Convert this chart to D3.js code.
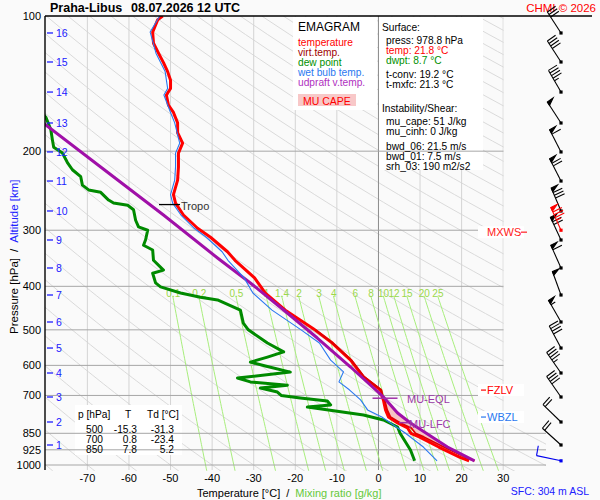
<!DOCTYPE html>
<html>
<head>
<meta charset="utf-8">
<script src="https://cdn.jsdelivr.net/npm/d3@7"></script>
<style>
  body { margin: 0; background: #fafafa; }
  text { font-family: "Liberation Sans", Arial, sans-serif; }
</style>
</head>
<body>
<svg id="chart" width="600" height="500"></svg>
<script>
/* globals d3 */

const pressTicks = [100, 200, 300, 400, 500, 600, 700, 850, 925, 1000];
const tempTicks = [-70, -60, -50, -40, -30, -20, -10, 0, 10, 20, 30];
const mixRatios = [0.1, 0.2, 0.5, 1, 1.4, 2, 3, 4, 6, 8, 10, 12, 15, 20, 25];

const altKm = [1, 2, 3, 4, 5, 6, 7, 8, 9, 10, 11, 12, 13, 14, 15, 16];
const altP = [902.5, 802.1, 705.6, 623.9, 548.9, 480.3, 418.2, 364.1, 315.4, 271.8, 233.1, 200.8, 173.1, 147.7, 126.6, 109.1];

// temperature
const tempP = [100, 102, 108.6, 115, 121, 127, 133, 139, 145, 150, 158, 164, 173, 182, 192, 202, 217, 232, 250, 261,
  277.5, 297, 311, 335, 350, 383, 414, 452, 500, 535, 584, 637, 681, 700, 717, 754, 782, 806, 827, 850, 866, 912, 960, 978.8];
const tempT = [-51.9, -53.1, -54.3, -54.1, -52.9, -51.7, -50.7, -50.0, -50.0, -51.0, -50.5, -49.3, -48.3, -48.3, -47.1, -48.1, -48.1, -48.3, -49.3, -48.8,
  -46.9, -43.5, -40.4, -36.3, -34.5, -29.8, -27.2, -22.4, -15.3, -11.1, -6.7, -3.6, 0.5, 0.8, 1.2, 1.7, 2.4, 4.6, 7.0, 7.8, 9.8, 14.5, 19.5, 21.8];

// virtual temperature (lower part, above it lies on the temperature)
const virtP = [500, 535, 584, 637, 681, 700, 717, 754, 782, 806, 827, 850, 866, 912, 960, 978.8];
const virtT = [-15.2, -11.0, -6.5, -3.4, 0.7, 1.0, 1.5, 2.1, 2.9, 5.3, 7.9, 8.9, 10.9, 15.7, 20.8, 23.1];

// dew point
const dewP = [160, 168, 179, 189, 196, 202, 212, 220, 228, 238, 244, 247, 257, 261, 264, 270, 285, 295, 300, 315, 324,
  332, 350, 368, 374, 393, 401, 414, 423, 429, 452, 483, 500, 535, 560, 575, 590, 602, 621, 640, 653,
  664, 674, 688, 700, 709, 720, 735, 743, 774, 794, 823, 850, 926, 978.8];
const dewT = [-82, -80, -78.8, -78.4, -78.1, -76.0, -74.8, -73.6, -71.6, -71.2, -69.7, -66.8, -64.9, -63.7, -60.3, -58.9, -58.4, -57.7, -55.5, -56.0, -56.5,
  -54.3, -54.1, -51.7, -54.3, -53.6, -52.4, -47.6, -42.8, -38.7, -33.2, -32.5, -31.3, -26.7, -22.8, -26.7, -30.8, -27.2, -21.2, -33.9, -30.8,
  -21.9, -28.4, -24.3, -23.4, -18.8, -12.3, -11.5, -17.1, -3.6, 1.2, 4.6, 5.2, 7.7, 8.7];

// wet bulb temperature
const wetP = [100, 108.6, 121, 133, 145, 150, 164, 173, 192, 202, 217, 232, 250, 261, 277.5, 297, 311, 335, 350, 383,
  414, 452, 500, 535, 584, 620, 653, 680, 700, 716, 754, 782, 823, 850, 912, 978.8];
const wetT = [-52.6, -54.9, -53.5, -51.3, -50.7, -51.6, -50.0, -49.0, -47.8, -48.8, -48.8, -49.0, -50.0, -49.5, -47.5, -44.3, -41.4, -37.6, -36.2, -32.3,
  -30.2, -25.6, -18.6, -14.2, -11.5, -8.4, -9.5, -7.0, -5.5, -4.3, -2.6, 0.8, 4.3, 6.5, 10.8, 14.1];

// MU parcel (updraft virtual temperature)
const parcP = [150, 174.9, 216.9, 277.5, 345.9, 393.2, 451.6, 521.4, 605, 705.6, 765.8, 806.2, 911.9, 978.8];
const parcT = [-88, -80.0, -66.8, -51.7, -38.7, -30.8, -22.8, -14.7, -6.7, 1.2, 4.6, 7.7, 16.6, 23.1];

const sfcP = 978.8;
const tropoP = 263;
const eqlP = 710;
const lfcP = 805;
const fzlvP = 681;
const wbzlP = 782;
const mxwsP = 300;

// winds (surface, then every km)
const windP = [sfcP].concat(altP);
const windDir = [282, 312, 314, 325, 325, 332, 330, 340, 336, 335, 337, 333, 333, 327, 330, 327, 327];
const windSpd = [10, 20, 20, 40, 45, 40, 55, 50, 60, 70, 80, 70, 60, 50, 45, 40, 30];
const mxwsDir = 336, mxwsSpd = 85;

const tableRows = [["500", "-15.3", "-31.3"], ["700", "0.8", "-23.4"], ["850", "7.8", "5.2"]];

// ---- drawing ----
var svg = d3.select("#chart");

var x = d3.scaleLinear().domain([-80, 30]).range([45.8, 503.2]);
var y = d3.scaleLog().domain([100, 1000]).range([16, 465]);

function interp(P, T, p) {
  for (let i = 0; i < P.length - 1; i++) {
    if (p >= P[i] && p <= P[i + 1]) {
      const f = (Math.log(p) - Math.log(P[i])) / (Math.log(P[i + 1]) - Math.log(P[i]));
      return T[i] + f * (T[i + 1] - T[i]);
    }
  }
  return p < P[0] ? T[0] : T[T.length - 1];
}

function profile(P, T) {
  return P.map((p, i) => [x(T[i]), y(p)]);
}

svg.append("rect").attr("width", 600).attr("height", 500).attr("fill", "#fafafa");

svg.append("clipPath").attr("id", "plotclip")
  .append("path").attr("d", "M45,16H503.5V425H546V471H45Z");

var grid = svg.append("g").attr("clip-path", "url(#plotclip)");
var line = d3.line();

// dry adiabats
d3.range(-80, 330, 10).forEach(function (th) {
  var pts = d3.range(100, 1061, 10).map(function (p) {
    var t = (th + 273.15) * Math.pow(p / 1000, 0.2857) - 273.15;
    return [x(t), y(p)];
  });
  grid.append("path").attr("d", line(pts)).attr("fill", "none")
    .attr("stroke", "#dadada").attr("stroke-width", 1);
});

// isotherms
tempTicks.forEach(function (t) {
  grid.append("line").attr("x1", x(t)).attr("x2", x(t)).attr("y1", 16).attr("y2", 470)
    .attr("stroke", t === 0 ? "#8c8c8c" : "#d4d4d4").attr("stroke-width", 1);
});

// mixing ratio lines
function tdew(w, p) {
  var e = w * p / (622 + w);
  var l = Math.log(e / 6.112);
  return 243.5 * l / (17.67 - l);
}
mixRatios.forEach(function (w) {
  var pts = d3.range(420, 1031, 10).map((p) => [x(tdew(w, p)), y(p)]);
  grid.append("path").attr("d", line(pts)).attr("fill", "none")
    .attr("stroke", "#a8ee7c").attr("stroke-width", 1);
});

// white text boxes
svg.append("rect").attr("x", 293).attr("y", 17).attr("width", 84).attr("height", 93).attr("fill", "#fff");
svg.append("rect").attr("x", 379).attr("y", 17).attr("width", 104).attr("height", 153).attr("fill", "#fff");
svg.append("rect").attr("x", 75).attr("y", 405).attr("width", 107).attr("height", 50).attr("fill", "#fff");

// isobars
pressTicks.slice(1).forEach(function (p) {
  svg.append("line").attr("x1", 45).attr("x2", p >= 850 ? 546 : 503.5)
    .attr("y1", y(p)).attr("y2", y(p)).attr("stroke", "#a6a6a6").attr("stroke-width", 1);
});

// mixing ratio labels
mixRatios.forEach(function (w) {
  svg.append("text").attr("x", x(tdew(w, 415)) + 1).attr("y", y(400) + 7)
    .attr("dy", "0.35em").attr("text-anchor", "middle")
    .attr("font-size", 10).attr("fill", "#9ad84a").text(w);
});

// CAPE area between environment Tv and parcel
var capeP = d3.range(eqlP, sfcP, 2).concat([sfcP]);
var capeArea = d3.area()
  .x0((p) => x(interp(virtP, virtT, p)))
  .x1((p) => x(Math.max(interp(parcP, parcT, p), interp(virtP, virtT, p))))
  .y((p) => y(p));
svg.append("path").attr("d", capeArea(capeP)).attr("fill", "#f6c4c4");

var curves = svg.append("g").attr("clip-path", "url(#plotclip)").attr("fill", "none")
  .attr("stroke-linejoin", "round");

curves.append("path").attr("d", line(profile(dewP, dewT)))
  .attr("stroke", "#008a00").attr("stroke-width", 3);
curves.append("path").attr("d", line(profile(tempP, tempT)))
  .attr("stroke", "#ff0000").attr("stroke-width", 3);
curves.append("path").attr("d", line(profile(virtP, virtT)))
  .attr("stroke", "#e00000").attr("stroke-width", 1.8);
curves.append("path").attr("d", line(profile(parcP, parcT)))
  .attr("stroke", "#a010a8").attr("stroke-width", 3);
curves.append("path").attr("d", line(profile(wetP, wetT)))
  .attr("stroke", "#2a78f0").attr("stroke-width", 1.1);

// tropopause, EQL, LFC markers
svg.append("line").attr("x1", 159).attr("x2", 180).attr("y1", y(tropoP)).attr("y2", y(tropoP))
  .attr("stroke", "#000").attr("stroke-width", 1.3);
svg.append("text").attr("x", 181).attr("y", y(tropoP) + 1.5).attr("dy", "0.35em")
  .attr("font-size", 11).attr("fill", "#333").text("Tropo");

svg.append("line").attr("x1", x(interp(parcP, parcT, eqlP)) - 12).attr("x2", x(interp(parcP, parcT, eqlP)) + 13)
  .attr("y1", y(eqlP)).attr("y2", y(eqlP)).attr("stroke", "#a030a8").attr("stroke-width", 1.5);
svg.append("text").attr("x", 407).attr("y", y(eqlP) + 1).attr("dy", "0.35em")
  .attr("font-size", 11).attr("fill", "#9b3aa6").text("MU-EQL");
svg.append("line").attr("x1", 399).attr("x2", 409).attr("y1", y(lfcP)).attr("y2", y(lfcP))
  .attr("stroke", "#a030a8").attr("stroke-width", 1.5);
svg.append("text").attr("x", 409).attr("y", y(lfcP) + 1.5).attr("dy", "0.35em")
  .attr("font-size", 11).attr("fill", "#9b3aa6").text("MU-LFC");

// right side level labels
function levelLabel(p, txt, color, tickLeft) {
  var yy = y(p);
  svg.append("rect").attr("x", 478).attr("y", yy - 6).attr("width", 46).attr("height", 12).attr("fill", "#fff");
  svg.append("line").attr("x1", tickLeft ? 481 : 521).attr("x2", tickLeft ? 486 : 527)
    .attr("y1", yy).attr("y2", yy).attr("stroke", color).attr("stroke-width", 1.2);
  svg.append("text").attr("x", 487).attr("y", yy).attr("dy", "0.35em")
    .attr("font-size", 11).attr("fill", color).text(txt);
}
levelLabel(fzlvP, "FZLV", "#ff0000", true);
levelLabel(wbzlP, "WBZL", "#2a78f0", true);
levelLabel(mxwsP + 3, "MXWS", "#ff2020", false);

// axes
svg.append("line").attr("x1", 45).attr("x2", 592).attr("y1", 16).attr("y2", 16)
  .attr("stroke", "#000").attr("stroke-width", 1.4);
svg.append("line").attr("x1", 45).attr("x2", 45).attr("y1", 16).attr("y2", 470)
  .attr("stroke", "#000").attr("stroke-width", 1.4);

svg.selectAll(".plab").data(pressTicks).enter().append("text")
  .attr("x", 41).attr("y", (d) => y(d)).attr("dy", "0.35em").attr("text-anchor", "end")
  .attr("font-size", 11).attr("fill", "#000").text((d) => d);

svg.selectAll(".tlab").data(tempTicks).enter().append("text")
  .attr("x", (d) => x(d)).attr("y", 478).attr("dy", "0.35em").attr("text-anchor", "middle")
  .attr("font-size", 11).attr("fill", "#000").text((d) => d);

// altitude ticks
altKm.forEach(function (k, i) {
  var yy = y(altP[i]);
  svg.append("line").attr("x1", 47).attr("x2", 53).attr("y1", yy).attr("y2", yy)
    .attr("stroke", "#2020ff").attr("stroke-width", 1.3);
  svg.append("text").attr("x", 56).attr("y", yy + 0.5).attr("dy", "0.35em")
    .attr("font-size", 10.5).attr("fill", "#2020ff").text(k);
});

// axis titles
var xt = svg.append("text").attr("x", 197).attr("y", 493).attr("dy", "0.35em").attr("font-size", 11);
xt.append("tspan").attr("fill", "#000").text("Temperature [°C]");
xt.append("tspan").attr("fill", "#000").attr("dx", 6).text("/");
xt.append("tspan").attr("fill", "#66c93a").attr("dx", 6).text("Mixing ratio [g/kg]");

var yt = svg.append("text").attr("transform", "translate(14,334) rotate(-90)")
  .attr("dy", "0.35em").attr("font-size", 11.5);
yt.append("tspan").attr("fill", "#000").text("Pressure [hPa]");
yt.append("tspan").attr("fill", "#000").attr("dx", 6).text("/");
yt.append("tspan").attr("fill", "#2020ff").attr("dx", 6).text("Altitude [km]");

// title
svg.append("text").attr("x", 50).attr("y", 12).attr("font-size", 12.5).attr("font-weight", "bold")
  .text("Praha-Libus");
svg.append("text").attr("x", 131).attr("y", 12).attr("font-size", 12.5).attr("font-weight", "bold")
  .text("08.07.2026 12 UTC");
svg.append("text").attr("x", 596).attr("y", 8).attr("dy", "0.35em").attr("text-anchor", "end")
  .attr("font-size", 11.5).attr("fill", "#ff0000").text("CHMI © 2026");
svg.append("text").attr("x", 589).attr("y", 491).attr("dy", "0.35em").attr("text-anchor", "end")
  .attr("font-size", 10.5).attr("fill", "#2020ff").text("SFC: 304 m ASL");

// legend
var legend = [["temperature", "#ff0000"], ["virt.temp.", "#a00000"], ["dew point", "#009000"],
  ["wet bulb temp.", "#2a78f0"], ["udpraft v.temp.", "#b030c0"]];
svg.append("text").attr("x", 298).attr("y", 27).attr("dy", "0.35em").attr("font-size", 12).text("EMAGRAM");
legend.forEach(function (d, i) {
  svg.append("text").attr("x", 298).attr("y", 42 + i * 10).attr("dy", "0.35em")
    .attr("font-size", 10.2).attr("fill", d[1]).text(d[0]);
});
svg.append("rect").attr("x", 298).attr("y", 94).attr("width", 58).attr("height", 12).attr("fill", "#f8c8c8");
svg.append("text").attr("x", 303).attr("y", 101).attr("dy", "0.35em")
  .attr("font-size", 10.5).attr("fill", "#ff0000").text("MU CAPE");

// surface / instability box
var info = [
  ["Surface:", 382, 27, "#000"], ["press: 978.8 hPa", 386, 40, "#000"], ["temp: 21.8 °C", 386, 50, "#ff0000"],
  ["dwpt: 8.7 °C", 386, 60, "#009000"], ["t-conv: 19.2 °C", 386, 74, "#000"], ["t-mxfc: 21.3 °C", 386, 84, "#000"],
  ["Instability/Shear:", 382, 108, "#000"], ["mu_cape: 51 J/kg", 386, 121, "#000"], ["mu_cinh: 0 J/kg", 386, 131, "#000"],
  ["bwd_06: 21.5 m/s", 386, 146, "#000"], ["bwd_01: 7.5 m/s", 386, 156, "#000"], ["srh_03: 190 m2/s2", 386, 166, "#000"]];
info.forEach(function (d) {
  svg.append("text").attr("x", d[1]).attr("y", d[2]).attr("dy", "0.35em")
    .attr("font-size", 10.2).attr("fill", d[3]).text(d[0]);
});

// table of standard levels
var hdr = svg.append("g").attr("font-size", 10.2);
hdr.append("text").attr("x", 78).attr("y", 414).attr("dy", "0.35em").text("p [hPa]");
hdr.append("text").attr("x", 125).attr("y", 414).attr("dy", "0.35em").text("T");
hdr.append("text").attr("x", 147).attr("y", 414).attr("dy", "0.35em").text("Td [°C]");
tableRows.forEach(function (r, i) {
  var yy = 429 + i * 10;
  hdr.append("text").attr("x", 103).attr("y", yy).attr("dy", "0.35em").attr("text-anchor", "end").text(r[0]);
  hdr.append("text").attr("x", 137).attr("y", yy).attr("dy", "0.35em").attr("text-anchor", "end").text(r[1]);
  hdr.append("text").attr("x", 174).attr("y", yy).attr("dy", "0.35em").attr("text-anchor", "end").text(r[2]);
});

// wind barbs
function barb(p, dir, spd, color) {
  var bx = 561, by = y(p), L = 25;
  var a = dir * Math.PI / 180, b = (dir + 88) * Math.PI / 180;
  var ux = Math.sin(a), uy = -Math.cos(a);
  var fx = Math.sin(b), fy = -Math.cos(b);
  var tx = bx + ux * L, ty = by + uy * L;
  var g = svg.append("g").attr("stroke", color).attr("fill", color).attr("stroke-width", 1.1);
  function pt(d) { return [tx - ux * d, ty - uy * d]; }
  g.append("line").attr("x1", bx).attr("y1", by).attr("x2", tx).attr("y2", ty);
  var s = Math.round(spd / 5) * 5, pos = 0, q;
  while (s >= 50) {
    var p0 = pt(pos), p1 = pt(pos + 4);
    g.append("path").attr("d", "M" + p0 + "L" + [p0[0] + fx * 7, p0[1] + fy * 7] + "L" + p1 + "Z");
    pos += 5; s -= 50;
  }
  while (s >= 10) {
    q = pt(pos);
    g.append("line").attr("x1", q[0]).attr("y1", q[1]).attr("x2", q[0] + fx * 10).attr("y2", q[1] + fy * 10);
    pos += 3; s -= 10;
  }
  if (s >= 5) {
    if (pos === 0) pos = 3;
    q = pt(pos);
    g.append("line").attr("x1", q[0]).attr("y1", q[1]).attr("x2", q[0] + fx * 5).attr("y2", q[1] + fy * 5);
  }
  g.append("rect").attr("x", bx - 1.6).attr("y", by - 1.6).attr("width", 3.2).attr("height", 3.2).attr("stroke", "none");
}
windP.forEach(function (p, i) {
  barb(p, windDir[i], windSpd[i], i === 0 ? "#0000ee" : "#000");
});
barb(mxwsP, mxwsDir, mxwsSpd, "#ff0000");
</script>
</body>
</html>
